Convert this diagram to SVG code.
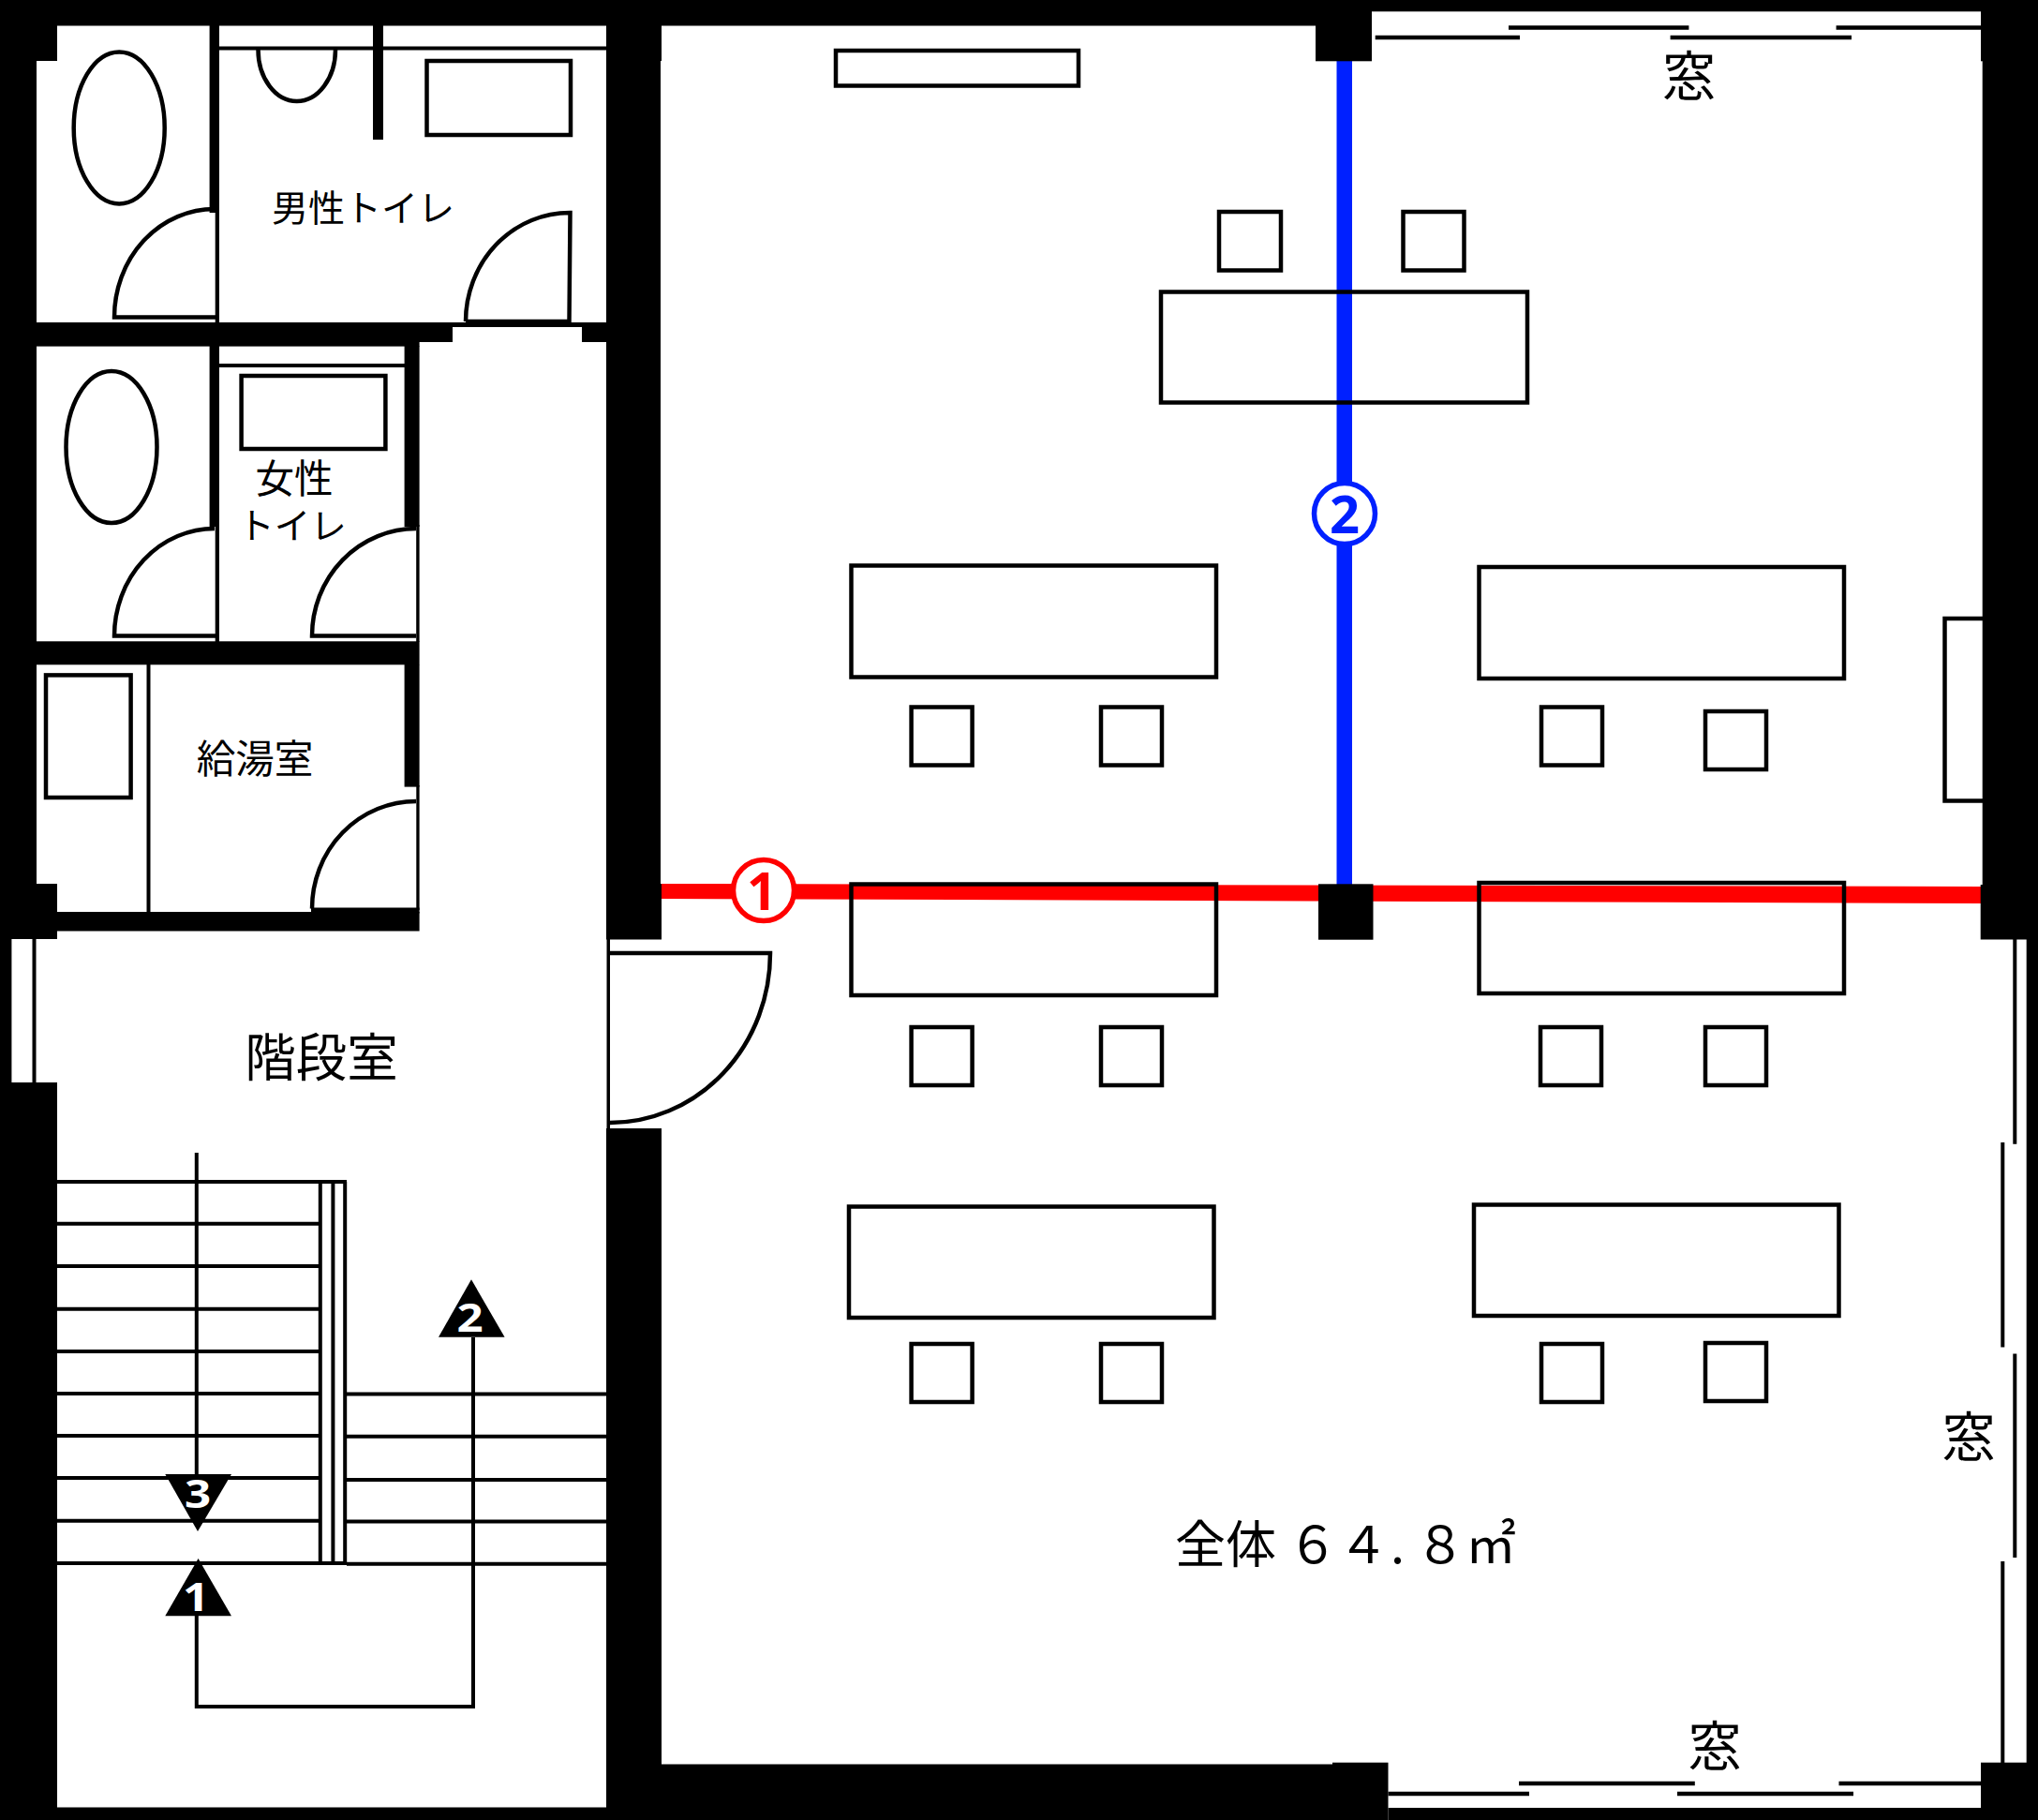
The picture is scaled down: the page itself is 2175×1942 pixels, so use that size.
<svg xmlns="http://www.w3.org/2000/svg" width="2175" height="1942" viewBox="0 0 2175 1942">
<style>
.w{fill:#000}
.l{fill:none;stroke:#000;stroke-width:4.500}
.s{fill:none;stroke:#000;stroke-width:4}
.t{fill:#000;font-family:"Noto Sans CJK JP","Noto Sans",sans-serif;text-anchor:middle}
.n{font-family:"Open Sans","Noto Sans",sans-serif;font-weight:700;text-anchor:middle}
</style>
<rect width="2175" height="1942" fill="#fff"/>
<g id="cuts">
<polygon fill="#f00" points="706,943 2114,946 2114,964 706,959"/>
<rect x="1426.500" y="65" width="16.500" height="880" fill="#0020ff"/>
</g>
<g id="walls" class="w">
<rect x="0" y="0" width="1404" height="27.500"/>
<rect x="1404" y="0" width="771" height="12.300"/>
<rect x="1404" y="0" width="60" height="65.300"/>
<rect x="2114" y="0" width="61" height="65.300"/>
<rect x="2115.700" y="0" width="59.300" height="945"/>
<rect x="2113.700" y="944" width="61.300" height="58.500"/>
<rect x="2162.700" y="1000" width="12.300" height="942"/>
<rect x="2114" y="1880.700" width="61" height="61.300"/>
<rect x="1422" y="1880.700" width="59.500" height="61.300"/>
<rect x="706" y="1882.500" width="716" height="59.500"/>
<rect x="1481.500" y="1929" width="640" height="13"/>
<rect x="0" y="1928.500" width="706" height="13.500"/>
<rect x="1407" y="943.300" width="58.500" height="59.400"/>
<rect x="0" y="0" width="39" height="1002"/>
<rect x="0" y="0" width="61" height="65"/>
<rect x="0" y="943" width="61" height="59"/>
<rect x="0" y="1002" width="12.400" height="153"/>
<rect x="0" y="1155" width="61" height="787"/>
<rect x="647" y="0" width="58" height="1002"/>
<rect x="647" y="0" width="59" height="65"/>
<rect x="647" y="943" width="59" height="59.500"/>
<rect x="647" y="1204" width="59" height="738"/>
<rect x="647.500" y="1000" width="3.500" height="206"/>
<rect x="223.600" y="27" width="10.400" height="200"/>
<rect x="229.700" y="225" width="4.300" height="120"/>
<rect x="398" y="27" width="11" height="122"/>
<rect x="39" y="344" width="444" height="21"/>
<rect x="39" y="344" width="408.600" height="25.600"/>
<rect x="483" y="344" width="138" height="5"/>
<rect x="621" y="344" width="27" height="21"/>
<rect x="223.600" y="369" width="10.400" height="193"/>
<rect x="229.700" y="560" width="4.300" height="125"/>
<rect x="431.600" y="369" width="16" height="193"/>
<rect x="444.200" y="560" width="3.400" height="125"/>
<rect x="39" y="684.300" width="408.600" height="25"/>
<rect x="431.600" y="709" width="16" height="130.600"/>
<rect x="444.300" y="838" width="3.300" height="133"/>
<rect x="61" y="973" width="386.600" height="20.500"/>
<rect x="332" y="968.500" width="115.600" height="6"/>
</g>
<g id="mens-toilet">
<path class="s" d="M234 51.500H647"/>
<path class="l" d="M275.500 53A41.250 55 0 0 0 358 53"/>
<rect class="l" x="455.500" y="65" width="153.500" height="79"/>
<ellipse class="l" cx="127.200" cy="136.400" rx="48.500" ry="81"/>
<path class="l" d="M230 338.500H122A107 115.500 0 0 1 229 223"/>
<path class="l" d="M497 343H607.500L608.500 227A111 116 0 0 0 497 343"/>
<text class="t" x="387.500" y="235.500" font-size="39">男性トイレ</text>
</g>
<g id="womens-toilet">
<path class="s" d="M234 390H432"/>
<rect class="l" x="257.600" y="401" width="153.800" height="78"/>
<ellipse class="l" cx="119" cy="477" rx="48.500" ry="81"/>
<path class="l" d="M230 678.600H122A107 114.600 0 0 1 229 564"/>
<path class="l" d="M444 678.600H333A111 114.600 0 0 1 444 564"/>
<text class="t"><tspan x="314" y="526" font-size="41.500">女性</tspan><tspan x="312" y="574.500" font-size="38.500">トイレ</tspan></text>
</g>
<g id="kitchen">
<rect class="l" x="49" y="720.400" width="90.600" height="130.600"/>
<path class="s" d="M158.500 709V973"/>
<path class="l" d="M333 969.500A111 114.500 0 0 1 444 855"/>
<text class="t" x="272" y="824.500" font-size="41.500">給湯室</text>
</g>
<g id="stairs">
<path class="s" d="M36.500 1002V1155"/>
<text class="t" x="343" y="1148" font-size="54.500">階段室</text>
<path class="s" d="M61 1261H370M61 1305.800H341M61 1351H341M61 1396.700H341M61 1442H341M61 1487H341M61 1532H341M61 1577H341M61 1622.700H341M61 1668H370"/>
<path class="s" d="M370 1487.500H647M370 1532.700H647M370 1579H647M370 1623.600H647M370 1668.800H647"/>
<path class="s" d="M341.800 1261V1668M355.400 1261V1668M368.200 1261V1668"/>
<path class="s" d="M209.800 1230V1575"/>
<path class="s" d="M209.800 1724V1821H505V1427"/>
<polygon class="w" points="176.300,1573 247,1573 211,1634"/>
<polygon class="w" points="211.600,1663 247,1724.300 176.300,1724.300"/>
<polygon class="w" points="503,1365.300 538.600,1426.700 468,1426.700"/>
<text class="n" fill="#fff" font-size="41" transform="translate(211 1609) scale(1.2 1)">3</text>
<text class="n" fill="#fff" font-size="41" transform="translate(209 1719) scale(1.2 1)">1</text>
<text class="n" fill="#fff" font-size="41" transform="translate(501.500 1421) scale(1.2 1)">2</text>
</g>
<g id="main-door">
<path class="l" d="M651 1017H822A171 181 0 0 1 651 1198"/>
</g>
<g id="furniture">
<rect class="l" x="892" y="54" width="259" height="37.500"/>
<rect class="l" x="1301" y="226" width="66" height="62.500"/>
<rect class="l" x="1497.500" y="226" width="65" height="62.500"/>
<rect class="l" x="1239" y="311.500" width="391" height="118"/>
<rect class="l" x="908.500" y="603.500" width="389.500" height="119"/>
<rect class="l" x="1578.500" y="605" width="389.500" height="119"/>
<rect class="l" x="972.600" y="754.500" width="65" height="62"/>
<rect class="l" x="1175" y="754.500" width="65" height="62"/>
<rect class="l" x="1645" y="754.500" width="65" height="62"/>
<rect class="l" x="1820" y="759" width="65" height="62"/>
<rect class="l" x="908.500" y="943.500" width="389.500" height="118.500"/>
<rect class="l" x="1578.500" y="942" width="389.500" height="118"/>
<rect class="l" x="972.600" y="1096" width="65" height="62"/>
<rect class="l" x="1175" y="1096" width="65" height="62"/>
<rect class="l" x="1644" y="1096" width="65" height="62"/>
<rect class="l" x="1820" y="1096" width="65" height="62"/>
<rect class="l" x="906" y="1287.500" width="389.500" height="118.500"/>
<rect class="l" x="1573" y="1285.500" width="389.500" height="118.500"/>
<rect class="l" x="972.600" y="1434" width="65" height="62"/>
<rect class="l" x="1175" y="1434" width="65" height="62"/>
<rect class="l" x="1645" y="1434" width="65" height="62"/>
<rect class="l" x="1820" y="1433" width="65" height="62"/>
<path class="l" d="M2116 660H2075.500V854.500H2116"/>
</g>
<g id="windows">
<path class="l" d="M1610 29.400H1802.400M1959.600 29.400H2114M1467.700 40H1622M1782.600 40H1976"/>
<path class="l" d="M1621 1903H1808.800M1962.500 1903H2114M1481.500 1914H1632M1790 1914H1978"/>
<path class="s" d="M2150.300 1002V1220.700M2137.300 1219V1437.500M2150.300 1444.600V1662M2137.300 1666V1881"/>
<text class="t" x="1802.500" y="102" font-size="57">窓</text>
<text class="t" x="2101" y="1554" font-size="57">窓</text>
<text class="t" x="1830" y="1884" font-size="57">窓</text>
</g>
<g id="marker-1">
<circle cx="815" cy="950" r="32.500" fill="#fff" stroke="#f00" stroke-width="5.500"/>
<text class="n" fill="#f00" x="813" y="971" font-size="56">1</text>
</g>
<g id="marker-2">
<circle cx="1435" cy="548" r="32.500" fill="#fff" stroke="#0020ff" stroke-width="5.500"/>
<text class="n" fill="#0020ff" x="1435" y="568.500" font-size="56">2</text>
</g>
<text class="t" style="text-anchor:start" y="1668" font-size="54" x="1254 1308 1362 1374 1428 1484 1510 1564">全体 ６４.８㎡</text>
</svg>
